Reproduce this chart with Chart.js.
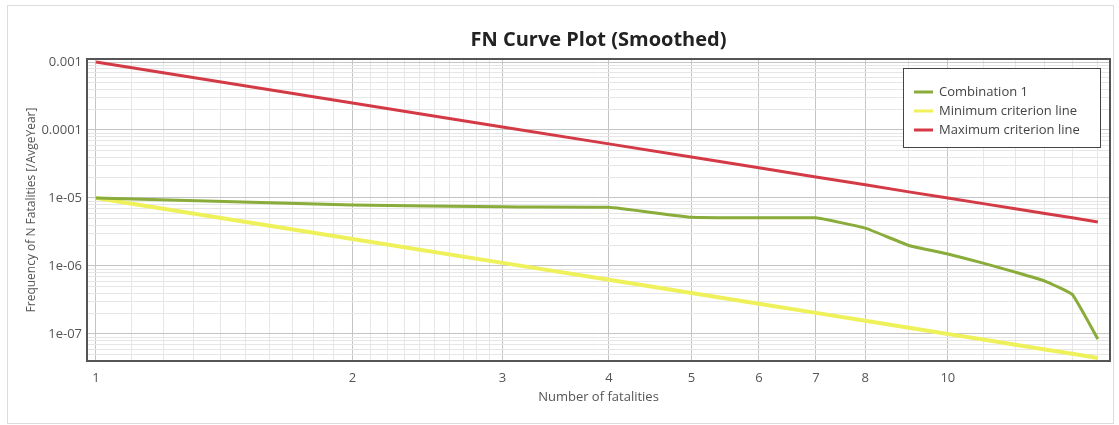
<!DOCTYPE html>
<html>
<head>
<meta charset="utf-8">
<title>FN Curve Plot (Smoothed)</title>
<script src="https://cdn.jsdelivr.net/npm/chart.js@4.4.0/dist/chart.umd.min.js"></script>
<style>
  html, body { margin: 0; padding: 0; background: #fff; }
  #wrap { position: relative; width: 1119px; height: 425px; }
  #frame { position: absolute; left: 7px; top: 5px; width: 1105px; height: 417px; border: 1px solid #dcdcdc; pointer-events: none; }
</style>
</head>
<body>
<div id="wrap">
  <canvas id="fnChart" width="1119" height="425"></canvas>
  <div id="frame"></div>
</div>
<script>
// Werte
const fatalities = [1, 2, 3, 4, 5, 6, 7, 8, 9, 10, 11, 12, 13, 14, 15];
const combination1 = [1.0e-5, 7.9e-6, 7.4e-6, 7.3e-6, 5.2e-6, 5.1e-6, 5.1e-6, 3.6e-6, 2.0e-6, 1.5e-6, 1.1e-6, 8.1e-7, 6.0e-7, 3.8e-7, 8.4e-8];
const minCriterion = [1.0e-5, 2.5e-6, 1.11e-6, 6.25e-7, 4.0e-7, 2.78e-7, 2.04e-7, 1.56e-7, 1.23e-7, 1.0e-7, 8.26e-8, 6.94e-8, 5.92e-8, 5.1e-8, 4.44e-8];
const maxCriterion = [1.0e-3, 2.5e-4, 1.11e-4, 6.25e-5, 4.0e-5, 2.78e-5, 2.04e-5, 1.56e-5, 1.23e-5, 1.0e-5, 8.26e-6, 6.94e-6, 5.92e-6, 5.1e-6, 4.44e-6];

const xTickValues = [1, 2, 3, 4, 5, 6, 7, 8, 10];
const yTickValues = [1e-3, 1e-4, 1e-5, 1e-6, 1e-7];
const yTickLabels = ['0.001', '0.0001', '1e-05', '1e-06', '1e-07'];

// Gitterlinien (inkl. Nebenlinien)
let xGrid = [];
for (let i = 10; i < 30; i++) xGrid.push(i / 10);
for (let i = 3; i <= 15; i++) xGrid.push(i);
let yGrid = [];
for (let e = -8; e <= -3; e++) {
  for (let m = 1; m <= 9; m++) {
    let v = Number((m * Math.pow(10, e)).toPrecision(3));
    if (v >= 4e-8 && v <= 1.1e-3) yGrid.push(v);
  }
}

function toPoints(values) {
  return values.map((v, i) => ({ x: fatalities[i], y: v }));
}

const majorGrid = '#c4c4c4';
const minorGrid = '#e6e6e6';

const frameAndLegend = {
  id: 'frameAndLegend',
  afterDraw(chart) {
    const ctx = chart.ctx;
    const a = chart.chartArea;
    ctx.save();
    ctx.strokeStyle = '#555';
    ctx.lineWidth = 2;
    ctx.strokeRect(a.left, a.top, a.right - a.left, a.bottom - a.top);

    // Legende
    const w = 197, h = 79;
    const lx = a.right - 10 - w, ly = a.top + 9;
    ctx.fillStyle = '#fff';
    ctx.fillRect(lx, ly, w, h);
    ctx.strokeStyle = '#444';
    ctx.lineWidth = 1;
    ctx.strokeRect(lx + 0.5, ly + 0.5, w, h);
    ctx.font = '13px "Open Sans", sans-serif';
    ctx.textBaseline = 'middle';
    chart.data.datasets.forEach((ds, i) => {
      const y = ly + 24 + i * 19;
      ctx.strokeStyle = ds.borderColor;
      ctx.lineWidth = 3;
      ctx.beginPath();
      ctx.moveTo(lx + 11, y);
      ctx.lineTo(lx + 30, y);
      ctx.stroke();
      ctx.fillStyle = '#444';
      ctx.fillText(ds.label, lx + 36, y);
    });
    ctx.restore();
  }
};

const fnChart = document.querySelector('#fnChart');

new Chart(fnChart, {
  type: 'line',
  data: {
    datasets: [{
      label: 'Combination 1',
      data: toPoints(combination1),
      borderColor: 'rgb(137, 172, 58)',
      borderWidth: 3,
      pointRadius: 0,
      tension: 0.1
    }, {
      label: 'Minimum criterion line',
      data: toPoints(minCriterion),
      borderColor: 'rgb(238, 241, 90)',
      borderWidth: 4,
      pointRadius: 0
    }, {
      label: 'Maximum criterion line',
      data: toPoints(maxCriterion),
      borderColor: 'rgb(212, 58, 70)',
      borderWidth: 3,
      pointRadius: 0
    }]
  },
  options: {
    responsive: false,
    animation: false,
    layout: { padding: { top: 0, left: 0, right: 9, bottom: 0 } },
    plugins: {
      legend: { display: false },
      tooltip: { enabled: false },
      title: {
        display: true,
        text: 'FN Curve Plot (Smoothed)',
        fullSize: false,
        color: '#222',
        font: { family: '"Open Sans", sans-serif', size: 20, weight: 'bold' },
        padding: { top: 28, bottom: 7 }
      }
    },
    scales: {
      x: {
        type: 'logarithmic',
        min: 0.976,
        max: 15.5,
        afterBuildTicks: (scale) => { scale.ticks = xGrid.map(v => ({ value: v })); },
        afterFit: (scale) => { scale.height = 64; },
        ticks: {
          autoSkip: false,
          maxRotation: 0,
          padding: 9,
          color: '#555',
          font: { family: '"Open Sans", sans-serif', size: 13 },
          callback: (value) => xTickValues.includes(value) ? String(value) : ''
        },
        grid: {
          drawTicks: false,
          color: (ctx) => ctx.tick && xTickValues.includes(ctx.tick.value) ? majorGrid : minorGrid
        },
        border: { display: false },
        title: {
          display: true,
          text: 'Number of fatalities',
          color: '#555',
          font: { family: '"Open Sans", sans-serif', size: 13 },
          padding: { top: 0, bottom: 20 }
        }
      },
      y: {
        type: 'logarithmic',
        min: 4.0e-8,
        max: 1.107e-3,
        afterBuildTicks: (scale) => { scale.ticks = yGrid.map(v => ({ value: v })); },
        afterFit: (scale) => { scale.width = 87; },
        ticks: {
          autoSkip: false,
          padding: 5,
          color: '#555',
          font: { family: '"Open Sans", sans-serif', size: 13 },
          callback: (value) => {
            let i = yTickValues.indexOf(value);
            return i >= 0 ? yTickLabels[i] : '';
          }
        },
        grid: {
          drawTicks: false,
          color: (ctx) => ctx.tick && yTickValues.includes(ctx.tick.value) ? majorGrid : minorGrid
        },
        border: { display: false },
        title: {
          display: true,
          text: 'Frequency of N Fatalities [/AvgeYear]',
          color: '#555',
          font: { family: '"Open Sans", sans-serif', size: 12 },
          padding: { top: 24, bottom: 0 }
        }
      }
    }
  },
  plugins: [frameAndLegend]
});
</script>
</body>
</html>
